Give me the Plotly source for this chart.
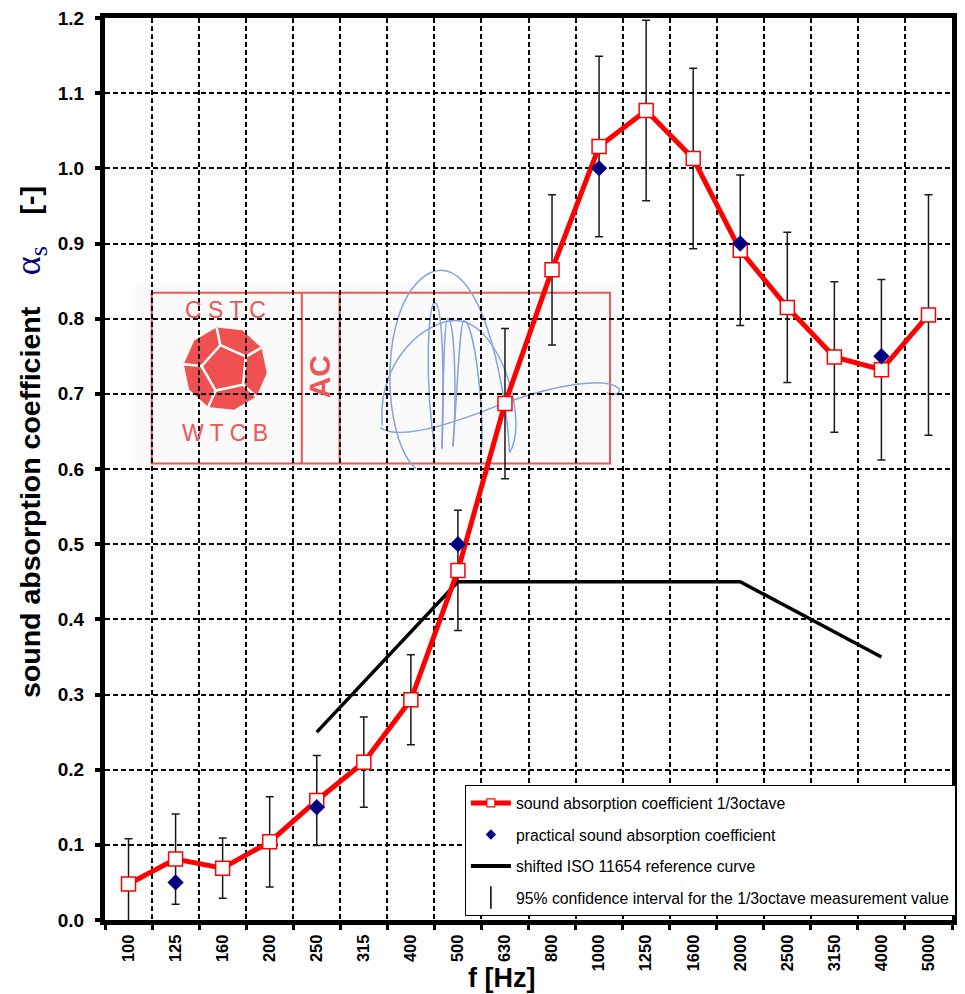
import math
import plotly.graph_objects as go

# ---------------- data ----------------
freq = ["100", "125", "160", "200", "250", "315", "400", "500", "630",
        "800", "1000", "1250", "1600", "2000", "2500", "3150", "4000", "5000"]
alpha_third = [0.048, 0.081, 0.069, 0.104, 0.159, 0.210, 0.293, 0.465, 0.687,
               0.865, 1.029, 1.077, 1.013, 0.891, 0.815, 0.749, 0.732, 0.805]
ci95 = [0.06, 0.06, 0.04, 0.06, 0.06, 0.06, 0.06, 0.08, 0.10,
        0.10, 0.12, 0.12, 0.12, 0.10, 0.10, 0.10, 0.12, 0.16]
octave_freq = ["125", "250", "500", "1000", "2000", "4000"]
alpha_practical = [0.05, 0.15, 0.50, 1.00, 0.90, 0.75]
ref_freq = ["250", "500", "1000", "2000", "4000"]
ref_curve = [0.25, 0.45, 0.45, 0.45, 0.35]

yticks = [round(0.1 * i, 1) for i in range(13)]

# ---------------- layout geometry (pixels) ----------------
W_FIG, H_FIG = 965, 994
L, R, T, B = 105, 957, 17, 920
PW, PH = R - L, B - T


def px(x):
    return (x - L) / PW


def py(y):
    return (B - y) / PH


FONT = "Arial, Liberation Sans, sans-serif"

fig = go.Figure()

# shifted reference curve
fig.add_trace(go.Scatter(
    x=ref_freq, y=ref_curve, mode="lines",
    line=dict(color="black", width=3.5),
    showlegend=False, hoverinfo="skip"))

# 1/3 octave values with confidence interval
fig.add_trace(go.Scatter(
    x=freq, y=alpha_third, mode="lines+markers",
    line=dict(color="#ff0000", width=5),
    marker=dict(symbol="square", size=14, color="white",
                line=dict(color="#ff0000", width=1.5)),
    error_y=dict(type="data", array=ci95, visible=True,
                 color="#1a1a1a", thickness=1.5, width=4),
    showlegend=False))

# practical sound absorption coefficient
fig.add_trace(go.Scatter(
    x=octave_freq, y=alpha_practical, mode="markers",
    marker=dict(symbol="diamond", size=12.5, color="#000080"),
    showlegend=False))

# ---------- legend-only entries ----------
fig.add_trace(go.Scatter(
    x=[None], y=[None], mode="lines+markers",
    name="sound absorption coefficient 1/3octave",
    line=dict(color="#ff0000", width=5),
    marker=dict(symbol="square", size=8, color="white",
                line=dict(color="#ff0000", width=1.2)),
    legendgroup="a"))
fig.add_trace(go.Scatter(
    x=[None], y=[None], mode="markers",
    name="practical sound absorption coefficient",
    marker=dict(symbol="diamond", size=8, color="#000080"),
    legendgroup="b"))
fig.add_trace(go.Scatter(
    x=[None], y=[None], mode="lines",
    name="shifted ISO 11654 reference curve",
    line=dict(color="black", width=4),
    legendgroup="c"))
fig.add_trace(go.Scatter(
    x=[None], y=[None], mode="markers",
    name="95% confidence interval for the 1/3octave measurement value",
    marker=dict(symbol="line-ns-open", size=18, color="black",
                line=dict(color="black", width=1.5)),
    legendgroup="d"))

# ---------------- logo (CSTC / WTCB stamp) ----------------
shapes = []
LOGO_RED = "#ee5555"


def rect(x0, y0, x1, y1, **kw):
    return dict(type="rect", xref="paper", yref="paper",
                x0=px(x0), x1=px(x1), y0=py(y1), y1=py(y0), layer="below", **kw)


def line(x0, y0, x1, y1, **kw):
    return dict(type="line", xref="paper", yref="paper",
                x0=px(x0), x1=px(x1), y0=py(y0), y1=py(y1), layer="below", **kw)


def path_str(cmds):
    s = []
    for c in cmds:
        op = c[0]
        pts = " ".join(f"{px(x):.5f},{py(y):.5f}" for (x, y) in c[1:])
        s.append(f"{op} {pts}")
    return " ".join(s)


shapes.append(rect(135, 283, 626, 472, fillcolor="#fafafa", line=dict(width=0)))
shapes.append(rect(152, 292, 613, 463, line=dict(color=LOGO_RED, width=2)))
shapes.append(line(303, 292, 303, 463, line=dict(color=LOGO_RED, width=2)))
shapes.append(line(341, 292, 341, 463, line=dict(color=LOGO_RED, width=2)))

# dodecahedron (face-on view)
cx, cy, Ro, Ri = 226, 368, 42, 24
rot = -12
outer = [(cx + Ro * math.cos(math.radians(rot + 36 * k - 90)),
          cy + Ro * math.sin(math.radians(rot + 36 * k - 90))) for k in range(10)]
inner = [(cx + Ri * math.cos(math.radians(rot + 72 * k - 90)),
          cy + Ri * math.sin(math.radians(rot + 72 * k - 90))) for k in range(5)]
cmds = [("M", outer[0])] + [("L", p) for p in outer[1:]] + [("Z",)]
shapes.append(dict(type="path", xref="paper", yref="paper", layer="below",
                   path=path_str(cmds), fillcolor="#f05050", line=dict(width=0)))
cmds = [("M", inner[0])] + [("L", p) for p in inner[1:]] + [("Z",)]
shapes.append(dict(type="path", xref="paper", yref="paper", layer="below",
                   path=path_str(cmds), line=dict(color="white", width=2.5)))
for k in range(5):
    shapes.append(line(inner[k][0], inner[k][1], outer[2 * k][0], outer[2 * k][1],
                       line=dict(color="white", width=2.5)))

# signature scribble
SIG = "#86a4dc"
sig_paths = [
    [("M", (418, 468)), ("C", (383, 440), (378, 300), (432, 272)),
     ("C", (482, 250), (508, 380), (512, 452))],
    [("M", (384, 425)), ("C", (378, 360), (428, 318), (460, 320)),
     ("C", (502, 322), (532, 420), (512, 452))],
    [("M", (437, 450)), ("C", (426, 380), (430, 300), (437, 302)),
     ("C", (446, 305), (446, 400), (444, 448))],
    [("M", (444, 448)), ("C", (445, 380), (446, 318), (450, 318)),
     ("C", (457, 318), (459, 400), (455, 446))],
    [("M", (455, 446)), ("C", (460, 380), (462, 320), (466, 320)),
     ("C", (478, 322), (488, 430), (483, 450))],
    [("M", (382, 427)), ("C", (400, 440), (450, 425), (500, 405)),
     ("C", (560, 383), (610, 376), (622, 388)), ("C", (624, 394), (615, 396), (610, 392))],
]
for p in sig_paths:
    shapes.append(dict(type="path", xref="paper", yref="paper", layer="below",
                       path=path_str(p), line=dict(color=SIG, width=1.5)))

annotations = [
    dict(text="C S T C", x=px(226), y=py(309), xref="paper", yref="paper",
         showarrow=False, font=dict(family=FONT, size=23, color=LOGO_RED),
         xanchor="center", yanchor="middle"),
    dict(text="W T C B", x=px(226), y=py(432), xref="paper", yref="paper",
         showarrow=False, font=dict(family=FONT, size=23, color=LOGO_RED),
         xanchor="center", yanchor="middle"),
    dict(text="<b>AC</b>", x=px(321), y=py(376), xref="paper", yref="paper",
         showarrow=False, textangle=-90, font=dict(family=FONT, size=30, color=LOGO_RED),
         xanchor="center", yanchor="middle"),
    # axis titles
    dict(text="<b>f [Hz]</b>", x=px(504), y=py(978), xref="paper", yref="paper",
         showarrow=False, font=dict(family=FONT, size=27, color="black"),
         xanchor="center", yanchor="middle"),
    dict(text="<b>sound absorption coefficient</b>&nbsp;&nbsp;&nbsp;&nbsp;"
              "<span style='font-family:Liberation Serif, serif;color:#000080;font-size:36px'>α"
              "<sub><span style='font-size:26px'>s</span></sub></span>"
              "&nbsp;&nbsp;&nbsp;&nbsp;<b>[-]</b>",
         x=px(30), y=py(441), xref="paper", yref="paper",
         showarrow=False, textangle=-90, font=dict(family=FONT, size=28.5, color="black"),
         xanchor="center", yanchor="middle"),
]

fig.update_layout(
    width=W_FIG, height=H_FIG,
    margin=dict(l=L, r=W_FIG - R, t=T, b=H_FIG - B, pad=0),
    plot_bgcolor="white", paper_bgcolor="white",
    font=dict(family=FONT, color="black"),
    shapes=shapes, annotations=annotations,
    showlegend=True,
    legend=dict(x=px(467), y=py(785), xanchor="left", yanchor="top",
                bgcolor="white", bordercolor="black", borderwidth=1,
                font=dict(family=FONT, size=15.8, color="black"),
                traceorder="grouped", tracegroupgap=8, itemwidth=40),
    xaxis=dict(type="category", categoryorder="array", categoryarray=freq,
               range=[-0.5, len(freq) - 0.5], tickson="boundaries",
               showgrid=True, gridcolor="black", gridwidth=1.5, griddash="5px,3px",
               showline=True, linewidth=5, linecolor="black", mirror=True,
               ticks="outside", ticklen=5, tickwidth=3, tickcolor="black",
               tickangle=-90, tickfont=dict(family=FONT, size=16.5, weight="bold"),
               ticklabelstandoff=3, zeroline=False),
    yaxis=dict(range=[0, 1.2], tickvals=yticks, ticktext=[f"{v:.1f}" for v in yticks],
               showgrid=True, gridcolor="black", gridwidth=1.5, griddash="5px,3px",
               showline=True, linewidth=5, linecolor="black", mirror=True,
               ticks="outside", ticklen=5, tickwidth=4, tickcolor="black",
               tickfont=dict(family=FONT, size=19, weight="bold"),
               ticklabelstandoff=7, zeroline=False),
)

fig.write_html("out.html", config={"displayModeBar": False},
               post_script="document.body.style.margin='0px';")
